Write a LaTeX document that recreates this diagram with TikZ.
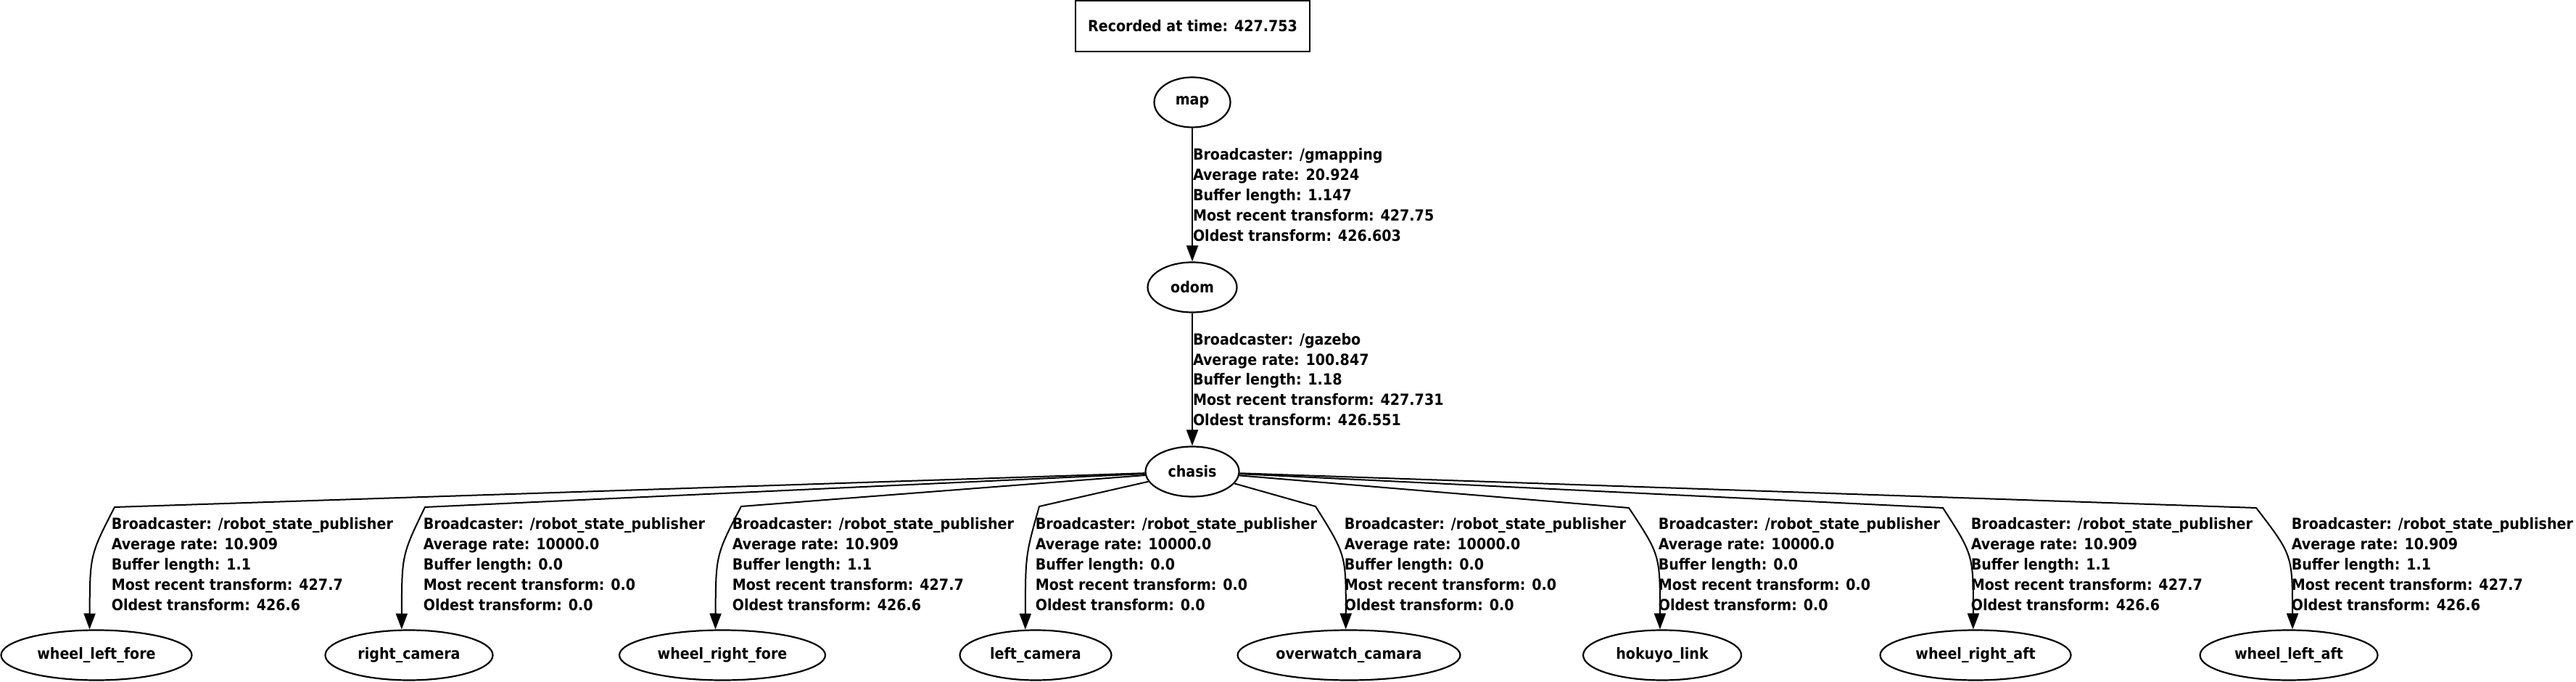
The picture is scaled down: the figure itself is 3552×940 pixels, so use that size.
\documentclass[tikz,border=0pt]{standalone}
\usepackage{fontspec}
\setmainfont{DejaVu Sans Condensed}[BoldFont={DejaVu Sans Condensed Bold}]
\usepackage{tikz}
\usetikzlibrary{arrows.meta,shapes.geometric}
\newcommand{\tfinfo}[5]{Broadcaster: #1\\Average rate: #2\\Buffer length: #3\\Most recent transform: #4\\Oldest transform: #5}
\newcommand{\rsp}{/robot\_state\_publisher}

\begin{document}
\begin{tikzpicture}[
 x=0.25pt,y=-0.25pt,
 every node/.style={font=\fontsize{5.3}{6.95}\selectfont\bfseries},
 frame/.style={ellipse,draw,line width=0.55pt,minimum height=17.25pt,inner sep=0pt},
 stamp/.style={draw,line width=0.55pt,minimum width=80.75pt,minimum height=17.5pt,inner sep=0pt},
 info/.style={anchor=west,align=left,inner sep=0pt},
 arr/.style={-{Triangle[length=5.5pt,width=4pt]},line width=0.5pt}
]
\useasboundingbox (0,0) rectangle (3552,940);
% header and the map -> odom -> chasis chain
\node[stamp] (stamp) at (1644.5,36) {Recorded at time: 427.753};
\node[frame,minimum width=26.25pt] (map) at (1644,141) {map};
\node[frame,minimum width=30.75pt] (odom) at (1644,396) {odom};
\node[frame,minimum width=32.25pt] (chasis) at (1644,650) {chasis};
\draw[arr] (map) -- node[info] (mapinfo) {\tfinfo{/gmapping}{20.924}{1.147}{427.75}{426.603}} (odom);
\draw[arr] (odom) -- node[info] (odominfo) {\tfinfo{/gazebo}{100.847}{1.18}{427.731}{426.551}} (chasis);

% child frames of chasis
\node[frame,minimum width=65.75pt] (wheelleftfore) at (133,903) {wheel\_left\_fore};
\node[frame,minimum width=57.75pt] (rightcamera) at (564,903) {right\_camera};
\node[frame,minimum width=71pt] (wheelrightfore) at (996,903) {wheel\_right\_fore};
\node[frame,minimum width=52.25pt] (leftcamera) at (1428,903) {left\_camera};
\node[frame,minimum width=76.75pt] (overwatch) at (1860,903) {overwatch\_camara};
\node[frame,minimum width=54.5pt] (hokuyo) at (2292,903) {hokuyo\_link};
\node[frame,minimum width=65.75pt] (wheelrightaft) at (2724,903) {wheel\_right\_aft};
\node[frame,minimum width=61.25pt] (wheelleftaft) at (3156,903) {wheel\_left\_aft};

\node[info] (wlfinfo) at (153,777.5) {\tfinfo{\rsp}{10.909}{1.1}{427.7}{426.6}};
\node[info] (rcinfo) at (583,777.5) {\tfinfo{\rsp}{10000.0}{0.0}{0.0}{0.0}};
\node[info] (wrfinfo) at (1009,777.5) {\tfinfo{\rsp}{10.909}{1.1}{427.7}{426.6}};
\node[info] (lcinfo) at (1427,777.5) {\tfinfo{\rsp}{10000.0}{0.0}{0.0}{0.0}};
\node[info] (owinfo) at (1853,777.5) {\tfinfo{\rsp}{10000.0}{0.0}{0.0}{0.0}};
\node[info] (hlinfo) at (2286,777.5) {\tfinfo{\rsp}{10000.0}{0.0}{0.0}{0.0}};
\node[info] (wrainfo) at (2717,777.5) {\tfinfo{\rsp}{10.909}{1.1}{427.7}{426.6}};
\node[info] (wlainfo) at (3159,777.5) {\tfinfo{\rsp}{10.909}{1.1}{427.7}{426.6}};

\draw[arr] (chasis) -- (158,699) .. controls (124,765) .. (wheelleftfore.105);
\draw[arr] (chasis) -- (586,699) .. controls (554,765) .. (rightcamera.106);
\draw[arr] (chasis) -- (1022,698) .. controls (987,765) .. (wheelrightfore.105);
\draw[arr] (chasis) -- (1433,698) .. controls (1414,765) .. (leftcamera.112);
\draw[arr] (chasis) -- (1814,698) .. controls (1856,765) .. (overwatch.97);
\draw[arr] (chasis) -- (2246,700) .. controls (2289,765) .. (hokuyo.95);
\draw[arr] (chasis) -- (2679,700) .. controls (2721,765) .. (wheelrightaft.95);
\draw[arr] (chasis) -- (3111,700) .. controls (3161,765) .. (wheelleftaft.82);
\end{tikzpicture}
\end{document}
